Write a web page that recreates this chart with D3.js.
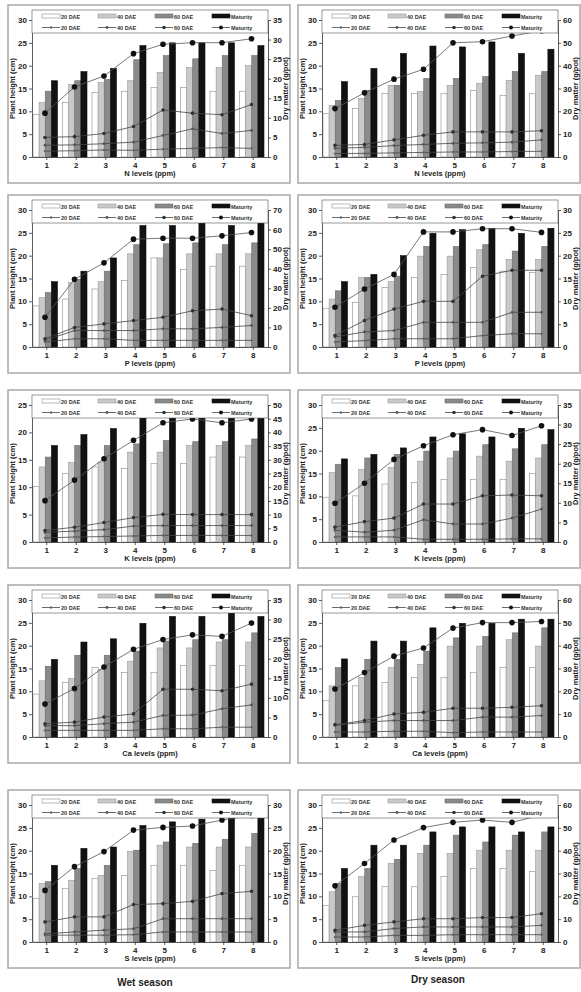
<!DOCTYPE html>
<html>
<head>
<meta charset="utf-8">
<script src="https://cdn.jsdelivr.net/npm/d3@7"></script>
<style>
  body { margin: 0; background: #fff; }
  svg { display: block; }
  text { font-family: "Liberation Sans", Arial, sans-serif; }
</style>
</head>
<body>
<svg id="chart" width="581" height="992"></svg>
<script>
// nutrient levels on the x axis and the four growth stages
const levels = ['1', '2', '3', '4', '5', '6', '7', '8'];
const stages = ['20 DAE', '40 DAE', '60 DAE', 'Maturity'];
const nutrients = ['N', 'P', 'K', 'Ca', 'S'];
const seasons = ['Wet season', 'Dry season'];

// axis tops, panel order: N wet, N dry, P wet, P dry, K wet, K dry, Ca wet, Ca dry, S wet, S dry
const heightMax = [30, 30, 30, 30, 25, 30, 30, 30, 30, 30];
const dryMax = [35, 60, 70, 30, 50, 35, 35, 60, 30, 60];
const dryStep = [5, 10, 10, 5, 5, 5, 5, 10, 5, 10];

// plant height (cm), rows = 20 DAE, 40 DAE, 60 DAE, Maturity
const nWetHeight = [
  [9.3, 11.9, 14.1, 14.4, 15.2, 15.2, 14.4, 14.4],
  [11.9, 15.9, 16.3, 16.7, 18.5, 19.6, 19.6, 20.0],
  [14.4, 16.7, 17.0, 21.3, 22.2, 21.5, 22.2, 22.2],
  [16.7, 18.7, 19.4, 24.4, 25.0, 25.0, 25.0, 24.4]
];
const nDryHeight = [
  [9.5, 10.6, 13.9, 13.9, 13.9, 14.6, 13.5, 13.9],
  [11.3, 12.8, 15.7, 14.3, 15.7, 16.1, 16.8, 17.9],
  [12.4, 14.6, 15.7, 17.2, 17.2, 17.6, 18.7, 18.7],
  [16.5, 19.4, 22.7, 24.3, 24.1, 25.2, 22.7, 23.6]
];
const pWetHeight = [
  [9.0, 10.5, 12.7, 14.6, 19.5, 17.0, 17.7, 17.7],
  [10.8, 14.1, 14.3, 20.4, 19.5, 20.4, 20.4, 20.4],
  [11.9, 14.8, 16.6, 22.4, 22.6, 22.8, 22.4, 22.8],
  [14.3, 16.6, 19.5, 26.6, 26.6, 27.6, 26.6, 27.6]
];
const pDryHeight = [
  [8.5, 9.8, 13.0, 15.2, 15.9, 17.4, 16.6, 16.3],
  [10.5, 15.2, 14.3, 19.9, 19.9, 21.3, 19.2, 19.2],
  [12.3, 15.2, 15.5, 22.0, 22.0, 22.4, 21.0, 22.0],
  [14.3, 15.9, 20.0, 24.9, 25.7, 26.0, 24.9, 26.0]
];
const kWetHeight = [
  [10.1, 12.5, 13.7, 13.4, 14.3, 14.3, 15.5, 15.5],
  [13.7, 14.5, 14.6, 16.4, 16.4, 17.6, 17.6, 17.6],
  [15.5, 17.6, 17.6, 17.9, 18.5, 18.3, 18.3, 18.8],
  [17.6, 19.6, 20.7, 23.5, 23.5, 23.5, 22.6, 22.6]
];
const kDryHeight = [
  [9.8, 10.1, 12.7, 13.0, 13.7, 13.7, 13.7, 15.0],
  [15.2, 15.9, 16.3, 17.7, 18.4, 18.8, 17.7, 18.4],
  [17.0, 18.4, 19.2, 19.9, 19.9, 21.3, 20.4, 21.3],
  [18.2, 19.2, 20.6, 23.0, 23.7, 23.0, 24.9, 24.6]
];
const caWetHeight = [
  [9.4, 11.9, 15.2, 14.1, 14.1, 15.7, 15.7, 15.7],
  [12.3, 12.8, 14.8, 16.6, 19.5, 19.5, 20.8, 20.8],
  [15.5, 17.9, 17.9, 18.8, 21.0, 21.3, 21.3, 22.8],
  [17.0, 20.8, 21.5, 24.9, 26.4, 26.4, 27.7, 26.4]
];
const caDryHeight = [
  [8.0, 11.2, 11.9, 13.0, 13.0, 14.1, 15.2, 15.2],
  [11.2, 13.0, 15.2, 15.9, 19.9, 19.9, 21.3, 19.9],
  [15.2, 17.0, 17.0, 18.8, 21.7, 22.0, 22.8, 23.9],
  [17.1, 21.0, 21.0, 23.9, 24.9, 24.9, 25.8, 25.8]
];
const sWetHeight = [
  [9.5, 11.7, 13.9, 14.6, 16.8, 16.8, 15.7, 16.8],
  [12.8, 13.5, 14.6, 19.8, 21.2, 20.8, 20.8, 20.8],
  [13.2, 16.1, 16.8, 20.1, 21.9, 21.6, 22.5, 23.8],
  [16.8, 20.5, 20.8, 25.5, 26.3, 26.9, 27.4, 27.4]
];
const sDryHeight = [
  [8.0, 9.9, 12.1, 12.1, 14.3, 16.1, 16.1, 15.4],
  [11.0, 14.3, 17.2, 19.4, 19.4, 20.1, 20.1, 20.1],
  [12.8, 16.1, 18.1, 21.2, 23.4, 21.9, 23.4, 24.1],
  [16.1, 21.2, 21.2, 24.1, 25.2, 25.2, 24.1, 25.2]
];

// dry matter (g/pot), same row order
const nWetDry = [
  [1.5, 1.6, 1.8, 1.7, 2.0, 2.2, 2.4, 2.2],
  [3.0, 3.1, 3.4, 3.8, 5.5, 7.2, 6.0, 6.8],
  [5.0, 5.2, 6.0, 7.8, 12.0, 11.2, 10.8, 13.4],
  [11.2, 17.9, 20.7, 26.4, 28.8, 29.2, 29.2, 30.2]
];
const nDryDry = [
  [1.5, 1.6, 1.8, 2.0, 2.2, 2.2, 2.4, 2.5],
  [3.8, 4.2, 5.0, 5.5, 6.0, 6.2, 6.5, 7.5],
  [5.1, 5.5, 7.5, 9.5, 11.0, 11.0, 11.0, 11.5],
  [21.2, 28.1, 34.1, 38.4, 50.0, 50.5, 53.0, 55.3]
];
const pWetDry = [
  [2.5, 4.2, 4.2, 3.4, 3.4, 3.4, 3.4, 3.4],
  [3.4, 8.4, 8.4, 8.4, 9.3, 9.3, 10.0, 11.0],
  [4.2, 10.0, 11.8, 13.5, 15.2, 18.5, 19.4, 16.0],
  [15.2, 34.6, 43.0, 55.1, 55.6, 55.6, 56.8, 58.5]
];
const pDryDry = [
  [1.1, 1.4, 1.8, 1.8, 1.8, 2.5, 2.9, 2.9],
  [2.2, 3.3, 3.6, 5.4, 5.4, 5.4, 7.6, 7.6],
  [2.5, 5.8, 8.3, 10.0, 10.0, 15.5, 16.8, 16.8],
  [8.7, 12.7, 15.9, 25.2, 25.2, 25.9, 25.9, 25.1]
];
const kWetDry = [
  [1.5, 1.8, 2.0, 2.2, 2.4, 2.4, 2.4, 2.4],
  [3.5, 4.0, 4.5, 5.8, 6.0, 6.0, 6.0, 6.0],
  [4.2, 5.4, 7.1, 8.9, 10.1, 10.0, 10.0, 10.0],
  [15.1, 22.6, 30.4, 37.1, 43.5, 44.9, 43.5, 44.9]
];
const kDryDry = [
  [1.3, 1.3, 1.3, 0.7, 0.7, 0.7, 0.8, 0.8],
  [3.0, 2.5, 3.0, 5.7, 4.6, 4.6, 6.1, 8.4],
  [3.8, 5.2, 6.1, 9.7, 9.7, 11.8, 12.0, 11.8],
  [9.9, 15.0, 21.1, 24.6, 27.4, 28.7, 27.2, 29.7]
];
const caWetDry = [
  [1.7, 1.7, 1.7, 1.7, 2.1, 2.1, 2.5, 2.5],
  [2.9, 2.9, 3.4, 3.8, 5.5, 5.6, 7.2, 8.2],
  [3.4, 3.8, 5.1, 5.9, 12.2, 12.2, 11.8, 13.5],
  [8.4, 12.4, 17.9, 22.4, 24.9, 26.1, 25.7, 29.1]
];
const caDryDry = [
  [2.2, 2.2, 2.5, 2.5, 1.9, 2.2, 2.2, 2.2],
  [5.1, 6.5, 7.2, 7.2, 7.2, 8.7, 8.7, 9.4],
  [5.4, 7.2, 10.1, 10.8, 12.6, 12.6, 13.0, 13.7],
  [21.0, 28.2, 35.4, 39.0, 47.7, 50.1, 50.1, 50.6]
];
const sWetDry = [
  [1.5, 1.5, 1.5, 1.6, 2.2, 2.2, 2.2, 2.2],
  [1.8, 2.2, 2.6, 2.9, 5.1, 5.1, 5.1, 5.1],
  [4.4, 5.5, 5.5, 8.2, 8.4, 8.9, 10.6, 11.1],
  [11.3, 16.5, 19.8, 24.5, 25.1, 25.4, 26.7, 27.7]
];
const sDryDry = [
  [2.2, 2.2, 2.9, 2.9, 3.2, 3.2, 3.2, 3.2],
  [4.4, 4.4, 5.9, 6.6, 6.6, 6.6, 6.6, 7.3],
  [5.1, 7.3, 8.8, 10.2, 10.2, 10.7, 10.7, 12.4],
  [24.6, 34.4, 44.7, 50.1, 52.4, 53.4, 52.4, 55.6]
];

const heights = [nWetHeight, nDryHeight, pWetHeight, pDryHeight, kWetHeight,
  kDryHeight, caWetHeight, caDryHeight, sWetHeight, sDryHeight];
const drys = [nWetDry, nDryDry, pWetDry, pDryDry, kWetDry,
  kDryDry, caWetDry, caDryDry, sWetDry, sDryDry];

// styles
var barFill = ['#ffffff', '#c9c9c9', '#8a8a8a', '#111111'];
var barStroke = ['#8c8c8c', '#9a9a9a', '#6a6a6a', '#111111'];
var dotR = [1.2, 1.4, 1.8, 2.8];
var dotFill = ['#666', '#555', '#333', '#111'];

var svg = d3.select('#chart');

// panel layout
var colX = [8, 298];
var rowY = [5, 195, 390, 585, 790];
var boxW = 282, boxH = 178;

function drawPanel(p) {
  var row = Math.floor(p / 2), col = p % 2;
  var bx = colX[col], by = rowY[row];
  var left = bx + 24, right = bx + 260, top = by + 15, bottom = by + 152;

  var g = svg.append('g');

  // frame
  g.append('rect')
    .attr('x', bx).attr('y', by)
    .attr('width', boxW).attr('height', boxH)
    .attr('fill', 'none')
    .attr('stroke', '#a8a8a8')
    .attr('stroke-width', 1.5);

  var x = d3.scaleBand().domain(levels).range([left, right]);
  var sub = d3.scaleBand().domain(stages).range([1, 25.5]);
  var y = d3.scaleLinear().domain([0, heightMax[p]]).range([bottom, top]);
  var y2 = d3.scaleLinear().domain([0, dryMax[p]]).range([bottom, top]);

  // bars
  heights[p].forEach(function(series, s) {
    g.append('g').selectAll('rect')
      .data(series)
      .enter()
      .append('rect')
      .attr('x', (d, k) => x(levels[k]) + sub(stages[s]))
      .attr('y', d => y(d))
      .attr('width', sub.bandwidth())
      .attr('height', d => bottom - y(d))
      .attr('fill', barFill[s])
      .attr('stroke', barStroke[s])
      .attr('stroke-width', 0.6);
  });

  // dry matter lines
  var cx = k => x(levels[k]) + 13;
  var line = d3.line().x((d, k) => cx(k)).y(d => y2(d));
  drys[p].forEach(function(series, s) {
    g.append('path')
      .datum(series)
      .attr('d', line)
      .attr('fill', 'none')
      .attr('stroke', s == 3 ? '#555' : '#444')
      .attr('stroke-width', 0.8);
    g.append('g').selectAll('circle')
      .data(series)
      .enter()
      .append('circle')
      .attr('cx', (d, k) => cx(k))
      .attr('cy', d => y2(d))
      .attr('r', dotR[s])
      .attr('fill', dotFill[s]);
  });

  // axes
  var xAxis = d3.axisBottom(x).tickSize(3).tickSizeOuter(0).tickPadding(2);
  var yAxis = d3.axisLeft(y).tickValues(d3.range(0, heightMax[p] + 0.1, 5))
    .tickSize(3).tickSizeOuter(0).tickPadding(2);
  var y2Axis = d3.axisRight(y2).tickValues(d3.range(0, dryMax[p] + 0.1, dryStep[p]))
    .tickSize(3).tickSizeOuter(0).tickPadding(2);

  g.append('g').attr('transform', `translate(0, ${bottom})`).call(xAxis);
  g.append('g').attr('transform', `translate(${left}, 0)`).call(yAxis);
  g.append('g').attr('transform', `translate(${right}, 0)`).call(y2Axis);

  g.selectAll('.domain, .tick line').attr('stroke', '#333').attr('stroke-width', 0.8);
  g.selectAll('.tick text')
    .attr('font-size', '8px')
    .attr('font-weight', 'bold')
    .attr('font-family', '"Liberation Sans", Arial, sans-serif')
    .attr('fill', '#222');

  // axis titles
  g.append('text')
    .attr('x', (left + right) / 2)
    .attr('y', bottom + 19)
    .attr('text-anchor', 'middle')
    .attr('font-size', '7.5px')
    .attr('font-weight', 'bold')
    .attr('fill', '#222')
    .text(nutrients[row] + ' levels (ppm)');

  g.append('text')
    .attr('transform', `translate(${bx + 7}, ${(top + bottom) / 2}) rotate(-90)`)
    .attr('text-anchor', 'middle')
    .attr('font-size', '7.5px')
    .attr('font-weight', 'bold')
    .attr('fill', '#222')
    .text('Plant height (cm)');

  g.append('text')
    .attr('transform', `translate(${bx + 280}, ${(top + bottom) / 2}) rotate(-90)`)
    .attr('text-anchor', 'middle')
    .attr('font-size', '7.5px')
    .attr('font-weight', 'bold')
    .attr('fill', '#222')
    .text('Dry matter (g/pot)');

  // legend
  var lg = g.append('g');
  lg.append('rect')
    .attr('x', left).attr('y', by + 5)
    .attr('width', right - left).attr('height', 23)
    .attr('fill', '#fff')
    .attr('stroke', '#555')
    .attr('stroke-width', 0.6);
  var offs = [10, 66, 123, 180];
  stages.forEach(function(st, s) {
    var ex = left + offs[s];
    lg.append('rect')
      .attr('x', ex).attr('y', by + 9)
      .attr('width', 18).attr('height', 4)
      .attr('fill', barFill[s])
      .attr('stroke', barStroke[s])
      .attr('stroke-width', 0.6);
    lg.append('text')
      .attr('x', ex + 19).attr('y', by + 13.5)
      .attr('font-size', '5.5px')
      .attr('font-weight', 'bold')
      .attr('fill', '#333')
      .text(st);
    lg.append('line')
      .attr('x1', ex).attr('x2', ex + 18)
      .attr('y1', by + 22.5).attr('y2', by + 22.5)
      .attr('stroke', '#444')
      .attr('stroke-width', 0.8);
    lg.append('circle')
      .attr('cx', ex + 9).attr('cy', by + 22.5)
      .attr('r', Math.min(dotR[s], 2))
      .attr('fill', dotFill[s]);
    lg.append('text')
      .attr('x', ex + 19).attr('y', by + 24.5)
      .attr('font-size', '5.5px')
      .attr('font-weight', 'bold')
      .attr('fill', '#333')
      .text(st);
  });
}

for (let p = 0; p < 10; p++) {
  drawPanel(p);
}

// season captions under each column
svg.append('text')
  .attr('x', 145).attr('y', 986)
  .attr('text-anchor', 'middle')
  .attr('font-size', '10px')
  .attr('font-weight', 'bold')
  .attr('fill', '#222')
  .text(seasons[0]);
svg.append('text')
  .attr('x', 438).attr('y', 983)
  .attr('text-anchor', 'middle')
  .attr('font-size', '10px')
  .attr('font-weight', 'bold')
  .attr('fill', '#222')
  .text(seasons[1]);
</script>
</body>
</html>
